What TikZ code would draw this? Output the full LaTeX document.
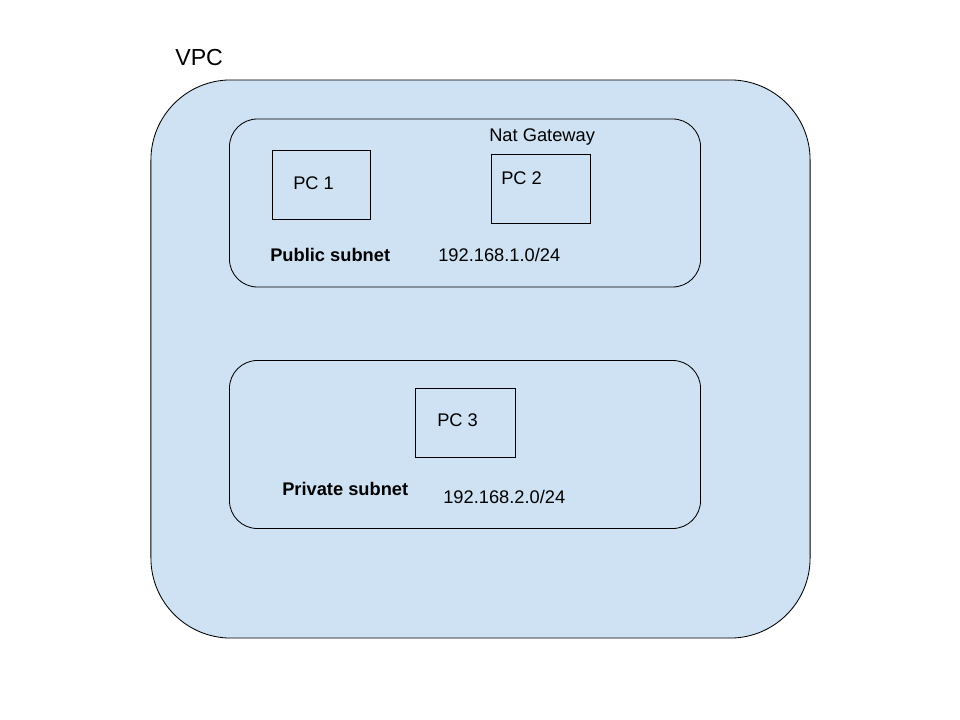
\documentclass[tikz,border=0pt]{standalone}
\usepackage{fontspec}
\setmainfont{Liberation Sans}
\usetikzlibrary{positioning}
\definecolor{vpcblue}{HTML}{CFE2F3}
\definecolor{ink}{HTML}{000000}

\tikzset{
  frame/.style={draw=ink, line width=0.6pt, inner sep=0pt},
  pcbox/.style={frame, minimum height=1.725cm},
  subnet/.style={frame, rounded corners=0.7cm, minimum width=11.775cm, minimum height=4.2cm},
  lbl/.style={anchor=base west, inner sep=0pt, text=ink, font=\fontsize{13}{15}\selectfont},
  boldlbl/.style={lbl, font=\fontsize{13}{15}\selectfont\bfseries},
}

\begin{document}
\begin{tikzpicture}[x=0.025cm,y=-0.025cm]
  \useasboundingbox (0,0) rectangle (960,720);
  % outer VPC
  \node[frame, fill=vpcblue, rounded corners=2cm, minimum width=16.475cm, minimum height=13.95cm] (vpc) at (480.5,359) {};
  \node[lbl, font=\fontsize{16.5}{19}\selectfont] (vpclbl) at (175,66) {VPC};

  % public subnet
  \node[subnet] (pubnet) at (465,203) {};
  \node[pcbox, minimum width=2.45cm] (pc1) at (321,184.5) {};
  \node[pcbox, minimum width=2.475cm] (pc2) at (540.5,188.5) {};
  \node[lbl] (pc1lbl) at (293,190) {PC 1};
  \node[lbl] (pc2lbl) at (501,185) {PC 2};
  \node[lbl] (natlbl) at (489,142) {Nat Gateway};
  \node[boldlbl] (publbl) at (270,262) {Public subnet};
  \node[lbl] (pubcidr) at (438,262) {192.168.1.0/24};

  % private subnet
  \node[subnet] (privnet) at (465,444.5) {};
  \node[pcbox, minimum width=2.5cm] (pc3) at (465,422.5) {};
  \node[lbl] (pc3lbl) at (437,427) {PC 3};
  \node[boldlbl] (privlbl) at (282,496) {Private subnet};
  \node[lbl] (privcidr) at (443,504) {192.168.2.0/24};
\end{tikzpicture}
\end{document}
